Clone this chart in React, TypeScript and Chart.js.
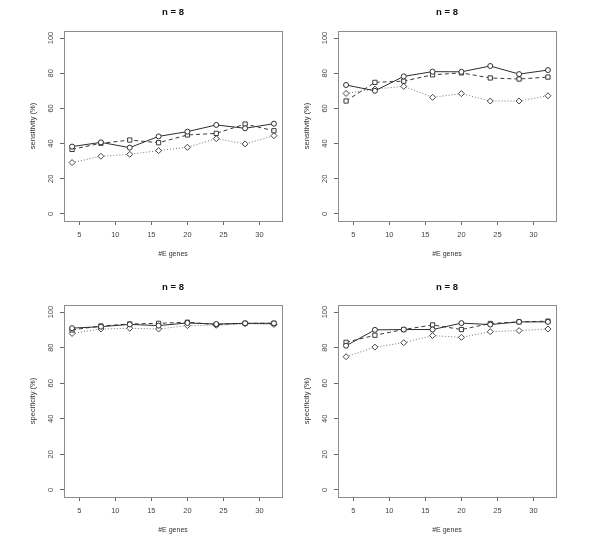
import React, { useEffect, useRef } from "react";
import { Chart, registerables } from "chart.js";

Chart.register(...registerables);

// ---------- data ----------
const xGenes = [4, 8, 12, 16, 20, 24, 28, 32];
const xTicks = [5, 10, 15, 20, 25, 30];
const yTicks = [0, 20, 40, 60, 80, 100];
const panelTitle = "n = 8";
const xAxisTitle = "#E genes";
const sensTitle = "sensitivity (%)";
const specTitle = "specificity (%)";

// top-left: sensitivity
const sensLeftSolid = [38.3, 40.7, 37.7, 44.1, 46.8, 50.6, 48.7, 51.3];
const sensLeftDashed = [36.7, 40.2, 42.0, 40.5, 44.9, 45.8, 51.1, 47.3];
const sensLeftDotted = [29.2, 32.8, 33.9, 36.0, 37.9, 42.8, 39.8, 44.5];

// top-right: sensitivity
const sensRightSolid = [73.3, 70.0, 78.2, 80.9, 80.8, 84.1, 79.5, 81.8];
const sensRightDashed = [64.2, 74.8, 75.5, 79.1, 80.2, 77.3, 76.7, 77.8];
const sensRightDotted = [68.5, 71.0, 72.5, 66.3, 68.4, 64.2, 64.2, 67.2];

// bottom-left: specificity
const specLeftSolid = [91.0, 91.8, 93.1, 92.4, 93.9, 93.3, 93.7, 93.7];
const specLeftDashed = [90.0, 92.2, 93.3, 93.7, 94.3, 93.0, 93.7, 93.7];
const specLeftDotted = [88.0, 90.5, 90.9, 90.5, 92.4, 92.6, 93.5, 93.0];

// bottom-right: specificity
const specRightSolid = [81.1, 90.0, 90.2, 90.2, 93.8, 93.0, 94.5, 94.5];
const specRightDashed = [83.0, 87.0, 90.2, 92.8, 90.2, 93.6, 94.5, 94.9];
const specRightDotted = [74.9, 80.3, 82.8, 86.8, 85.8, 89.0, 89.6, 90.5];

// ---------- styling ----------
const FONT = "'Liberation Sans', Arial, Helvetica, sans-serif";

const boxPlugin = {
  id: "rbox",
  afterDraw(chart: any) {
    const { ctx, chartArea } = chart;
    ctx.save();
    ctx.strokeStyle = "#8c8c8c";
    ctx.lineWidth = 1;
    const l = Math.round(chartArea.left) + 0.5;
    const t = Math.round(chartArea.top) + 0.5;
    const r = Math.round(chartArea.right) + 0.5;
    const b = Math.round(chartArea.bottom) + 0.5;
    ctx.strokeRect(l, t, r - l, b - t);
    ctx.restore();
  },
};

function series(values: number[]) {
  return xGenes.map((x, i) => ({ x, y: values[i] }));
}

type PanelSpec = {
  left: number;
  top: number;
  width: number;
  height: number;
  chartLeft: number;
  chartRight: number;
  chartTop: number;
  chartBottom: number;
  titleCenter: number;
  yTitle: string;
  solid: number[];
  dashed: number[];
  dotted: number[];
};

const Y_AXIS_W = 40;
const X_AXIS_H = 40;
const TITLE_SIZE = 9.5;

function Panel({ spec }: { spec: PanelSpec }) {
  const ref = useRef<HTMLCanvasElement | null>(null);
  useEffect(() => {
    if (!ref.current) return;
    const titleLH = TITLE_SIZE * 1.2;
    const tPadTop = spec.titleCenter - titleLH / 2;
    const tPadBottom = spec.chartTop - tPadTop - titleLH;
    const chart = new Chart(ref.current, {
      type: "line",
      data: {
        datasets: [
          {
            data: series(spec.solid),
            borderColor: "#2e2e2e",
            borderWidth: 1,
            pointStyle: "circle",
            pointRadius: 2.5,
            pointBorderWidth: 1,
            pointBorderColor: "#2e2e2e",
            pointBackgroundColor: "#ffffff",
            tension: 0,
          },
          {
            data: series(spec.dashed),
            borderColor: "#3a3a3a",
            borderWidth: 1,
            borderDash: [4, 3],
            pointStyle: "rect",
            pointRadius: 3,
            pointBorderWidth: 1,
            pointBorderColor: "#3a3a3a",
            pointBackgroundColor: "#ffffff",
            tension: 0,
          },
          {
            data: series(spec.dotted),
            borderColor: "#777777",
            borderWidth: 1,
            borderDash: [1, 2],
            pointStyle: "rectRot",
            pointRadius: 3,
            pointBorderWidth: 1,
            pointBorderColor: "#444444",
            pointBackgroundColor: "#ffffff",
            tension: 0,
          },
        ],
      },
      options: {
        responsive: false,
        animation: false,
        devicePixelRatio: 1,
        layout: {
          padding: {
            left: spec.chartLeft - Y_AXIS_W,
            right: spec.width - spec.chartRight,
            top: 0,
            bottom: spec.height - spec.chartBottom - X_AXIS_H,
          },
        },
        plugins: {
          legend: { display: false },
          tooltip: { enabled: false },
          title: {
            display: true,
            text: panelTitle,
            fullSize: false,
            color: "#111",
            font: { family: FONT, size: TITLE_SIZE, weight: "bold" },
            padding: { top: tPadTop, bottom: tPadBottom },
          },
        },
        scales: {
          x: {
            type: "linear",
            min: 2.88,
            max: 33.12,
            afterBuildTicks: (s: any) => {
              s.ticks = xTicks.map((v) => ({ value: v }));
            },
            afterFit: (s: any) => {
              s.height = X_AXIS_H;
            },
            grid: {
              display: true,
              drawOnChartArea: false,
              drawTicks: true,
              tickLength: 4,
              color: "#666",
            },
            border: { display: false },
            ticks: {
              autoSkip: false,
              maxRotation: 0,
              padding: 5,
              color: "#444",
              font: { family: FONT, size: 7.5 },
              callback: (v: any) => String(v),
            },
            title: {
              display: true,
              text: xAxisTitle,
              color: "#333",
              font: { family: FONT, size: 7 },
              padding: { top: 0, bottom: 3 },
            },
          },
          y: {
            type: "linear",
            min: -4,
            max: 104,
            afterBuildTicks: (s: any) => {
              s.ticks = yTicks.map((v) => ({ value: v }));
            },
            afterFit: (s: any) => {
              s.width = Y_AXIS_W;
            },
            grid: {
              display: true,
              drawOnChartArea: false,
              drawTicks: true,
              tickLength: 4,
              color: "#666",
            },
            border: { display: false },
            ticks: {
              autoSkip: false,
              minRotation: 90,
              maxRotation: 90,
              crossAlign: "center",
              padding: 3,
              color: "#444",
              font: { family: FONT, size: 7.5 },
              callback: (v: any) => String(v),
            },
            title: {
              display: true,
              text: spec.yTitle,
              color: "#333",
              font: { family: FONT, size: 7.5 },
              padding: { top: 4, bottom: 0 },
            },
          },
        },
      },
      plugins: [boxPlugin],
    } as any);
    return () => chart.destroy();
  }, [spec]);
  return (
    <canvas
      ref={ref}
      width={spec.width}
      height={spec.height}
      style={{
        position: "absolute",
        left: spec.left,
        top: spec.top,
        width: spec.width,
        height: spec.height,
      }}
    />
  );
}

const panels: PanelSpec[] = [
  {
    left: 0, top: 0, width: 300, height: 270,
    chartLeft: 64, chartRight: 282, chartTop: 31, chartBottom: 221,
    titleCenter: 12, yTitle: sensTitle,
    solid: sensLeftSolid, dashed: sensLeftDashed, dotted: sensLeftDotted,
  },
  {
    left: 300, top: 0, width: 300, height: 270,
    chartLeft: 38, chartRight: 256, chartTop: 31, chartBottom: 221,
    titleCenter: 12, yTitle: sensTitle,
    solid: sensRightSolid, dashed: sensRightDashed, dotted: sensRightDotted,
  },
  {
    left: 0, top: 270, width: 300, height: 271,
    chartLeft: 64, chartRight: 282, chartTop: 35, chartBottom: 227,
    titleCenter: 17, yTitle: specTitle,
    solid: specLeftSolid, dashed: specLeftDashed, dotted: specLeftDotted,
  },
  {
    left: 300, top: 270, width: 300, height: 271,
    chartLeft: 38, chartRight: 256, chartTop: 35, chartBottom: 227,
    titleCenter: 17, yTitle: specTitle,
    solid: specRightSolid, dashed: specRightDashed, dotted: specRightDotted,
  },
];

export default function App() {
  return (
    <div
      style={{
        position: "fixed",
        left: 0,
        top: 0,
        width: 600,
        height: 541,
        background: "#ffffff",
        overflow: "hidden",
      }}
    >
      {panels.map((p, i) => (
        <Panel key={i} spec={p} />
      ))}
    </div>
  );
}
